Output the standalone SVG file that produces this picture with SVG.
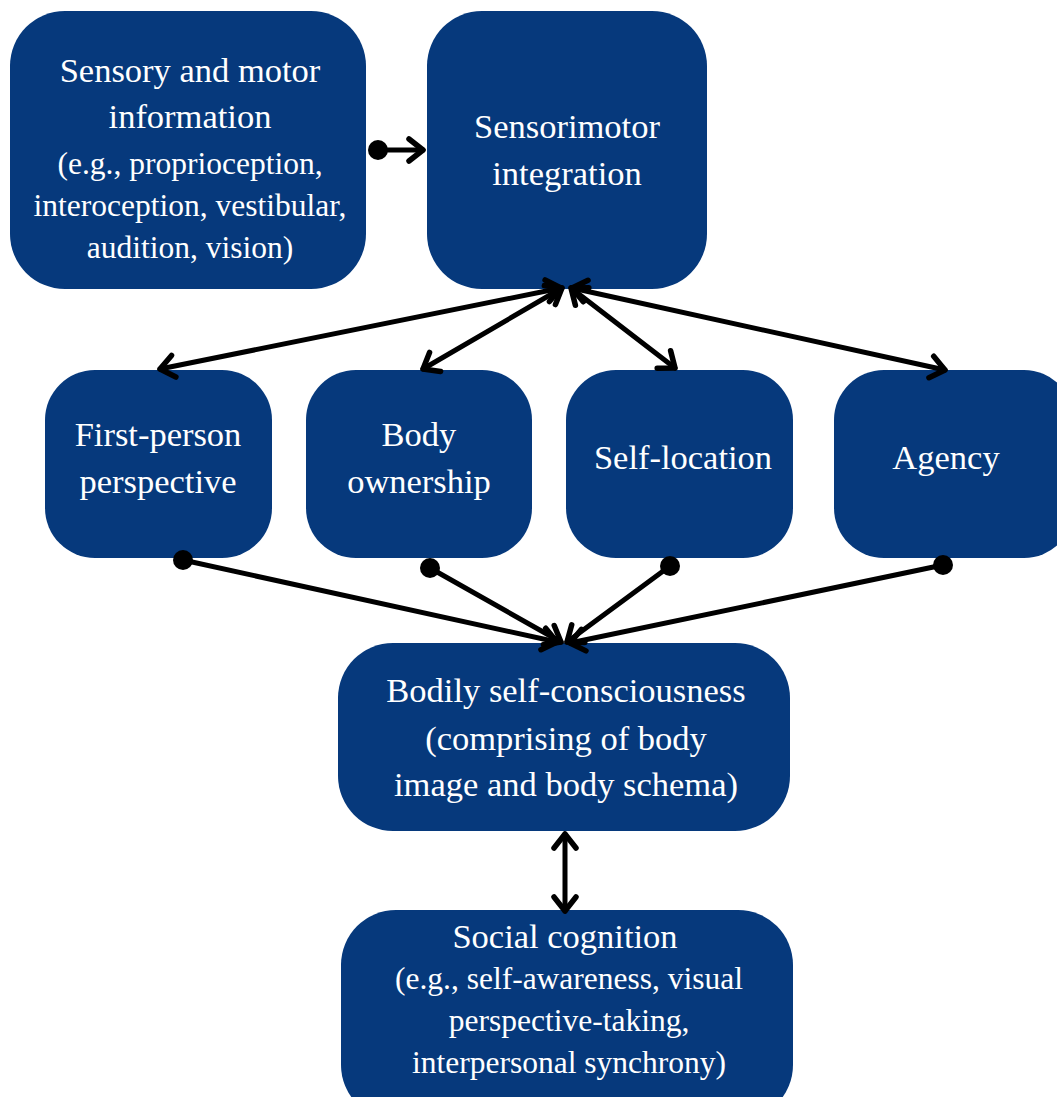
<svg xmlns="http://www.w3.org/2000/svg" width="1057" height="1097" viewBox="0 0 1057 1097">
  <style>
    .box { fill: #06397c; }
    .t { font-family: "Liberation Serif", "Times New Roman", serif; fill: #ffffff; text-anchor: middle; }
    .h { font-size: 34.5px; }
    .s { font-size: 31.5px; }
    .link { stroke: #000; stroke-width: 5; fill: none; stroke-linecap: round; }
    .dot { fill: #000; }
  </style>
  <defs>
    <marker id="head" markerUnits="userSpaceOnUse" viewBox="-20 -14 24 28" refX="0" refY="0" markerWidth="24" markerHeight="28" orient="auto-start-reverse" overflow="visible">
      <path d="M -14 -11 L 0 0 L -14 11" fill="none" stroke="#000" stroke-width="5.5" stroke-linecap="round" stroke-linejoin="round"/>
    </marker>
  </defs>

  <rect width="1057" height="1097" fill="#ffffff"/>

  <g id="sensory-motor-info">
    <rect class="box" x="10" y="11" width="356" height="278" rx="55"/>
    <text class="t h" x="190" y="82">Sensory and motor</text>
    <text class="t h" x="190" y="128">information</text>
    <text class="t s" x="190" y="174">(e.g., proprioception,</text>
    <text class="t s" x="190" y="216">interoception, vestibular,</text>
    <text class="t s" x="190" y="258">audition, vision)</text>
  </g>

  <g id="sensorimotor-integration">
    <rect class="box" x="427" y="11" width="280" height="278" rx="55"/>
    <text class="t h" x="567" y="138">Sensorimotor</text>
    <text class="t h" x="567" y="185">integration</text>
  </g>

  <g id="first-person-perspective">
    <rect class="box" x="45" y="370" width="227" height="188" rx="50"/>
    <text class="t h" x="158" y="446">First-person</text>
    <text class="t h" x="158" y="493">perspective</text>
  </g>

  <g id="body-ownership">
    <rect class="box" x="306" y="370" width="226" height="188" rx="50"/>
    <text class="t h" x="419" y="446">Body</text>
    <text class="t h" x="419" y="493">ownership</text>
  </g>

  <g id="self-location">
    <rect class="box" x="566" y="370" width="227" height="188" rx="50"/>
    <text class="t h" x="683" y="469">Self-location</text>
  </g>

  <g id="agency">
    <rect class="box" x="834" y="370" width="240" height="188" rx="50"/>
    <text class="t h" x="946" y="469">Agency</text>
  </g>

  <g id="bodily-self-consciousness">
    <rect class="box" x="338" y="643" width="452" height="188" rx="55"/>
    <text class="t h" x="566" y="702">Bodily self-consciousness</text>
    <text class="t h" x="566" y="750">(comprising of body</text>
    <text class="t h" x="566" y="796">image and body schema)</text>
  </g>

  <g id="social-cognition">
    <rect class="box" x="341" y="910" width="452" height="210" rx="55"/>
    <text class="t h" x="565" y="948">Social cognition</text>
    <text class="t s" x="569" y="989">(e.g., self-awareness, visual</text>
    <text class="t s" x="569" y="1031">perspective-taking,</text>
    <text class="t s" x="569" y="1073">interpersonal synchrony)</text>
  </g>

  <g id="connectors">
    <!-- sensory input feeds integration -->
    <circle class="dot" cx="378" cy="150" r="10"/>
    <line class="link" x1="378" y1="150" x2="423" y2="150" marker-end="url(#head)"/>

    <!-- integration exchanges with the four components -->
    <line class="link" x1="561" y1="288" x2="160" y2="369" marker-start="url(#head)" marker-end="url(#head)"/>
    <line class="link" x1="562" y1="288" x2="423" y2="369" marker-start="url(#head)" marker-end="url(#head)"/>
    <line class="link" x1="571" y1="288" x2="675" y2="368" marker-start="url(#head)" marker-end="url(#head)"/>
    <line class="link" x1="572" y1="288" x2="945" y2="370" marker-start="url(#head)" marker-end="url(#head)"/>

    <!-- components converge on bodily self-consciousness -->
    <circle class="dot" cx="183" cy="560" r="10"/>
    <line class="link" x1="183" y1="560" x2="557" y2="642" marker-end="url(#head)"/>
    <circle class="dot" cx="430" cy="568" r="10"/>
    <line class="link" x1="430" y1="568" x2="561" y2="642" marker-end="url(#head)"/>
    <circle class="dot" cx="670" cy="566" r="10"/>
    <line class="link" x1="670" y1="566" x2="567" y2="642" marker-end="url(#head)"/>
    <circle class="dot" cx="943" cy="565" r="10"/>
    <line class="link" x1="943" y1="565" x2="570" y2="643" marker-end="url(#head)"/>

    <!-- bodily self-consciousness and social cognition -->
    <line class="link" x1="565" y1="834" x2="565" y2="911" marker-start="url(#head)" marker-end="url(#head)"/>
  </g>
</svg>
